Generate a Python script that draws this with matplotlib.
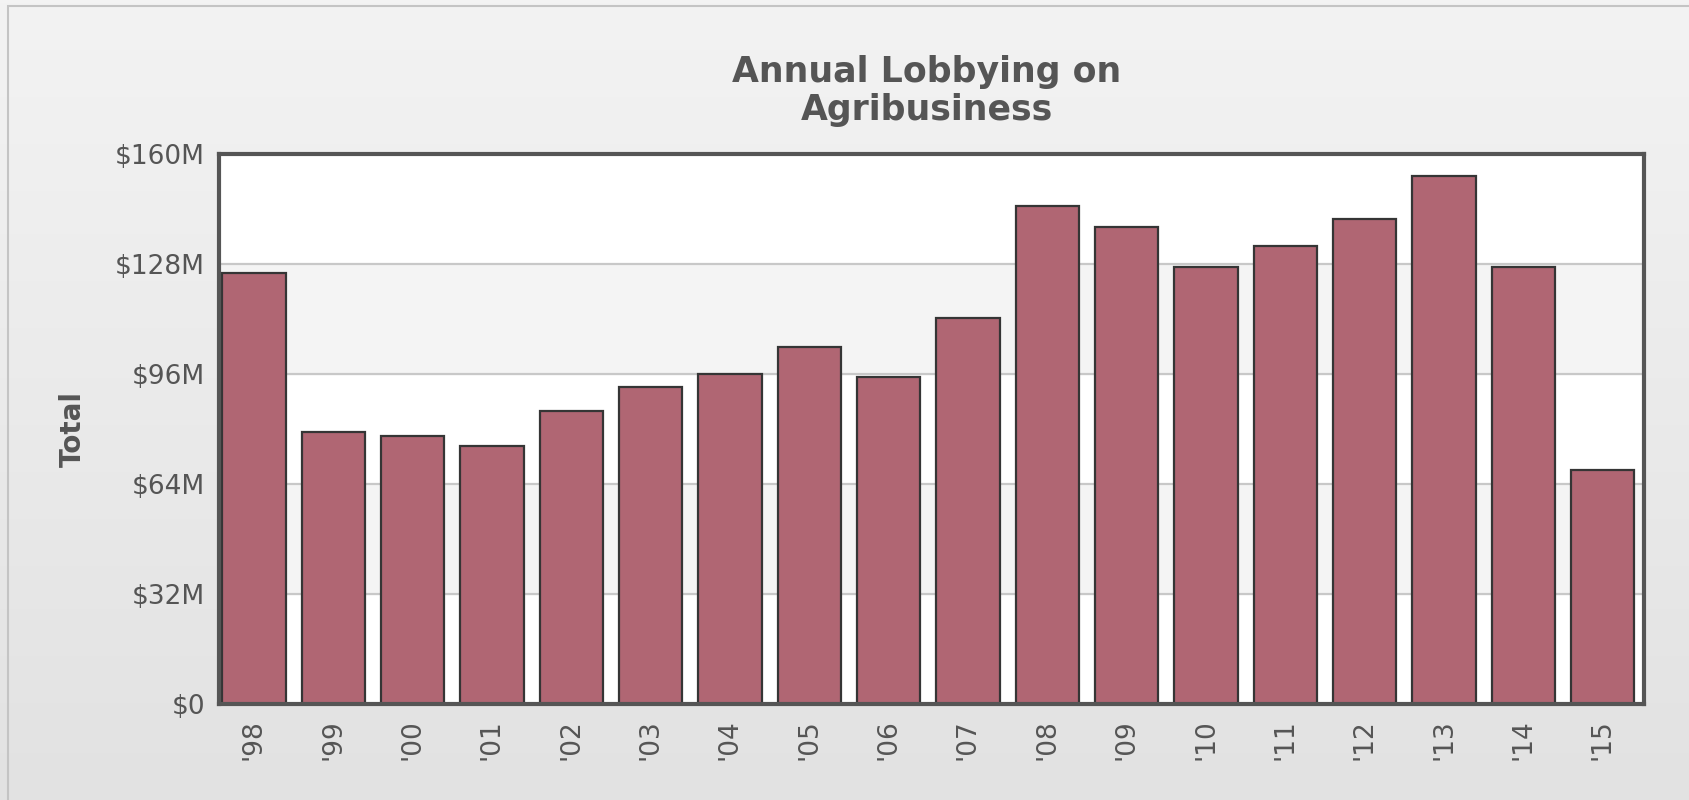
import numpy as np
import matplotlib
matplotlib.use('Agg')
import matplotlib.pyplot as plt
from matplotlib.patches import Rectangle

years = ["'98", "'99", "'00", "'01", "'02", "'03", "'04", "'05", "'06",
         "'07", "'08", "'09", "'10", "'11", "'12", "'13", "'14", "'15"]
totals = [125.5, 79.1, 78.1, 75.0, 85.3, 92.2, 96.0, 103.8, 95.1,
          112.3, 144.9, 138.7, 127.1, 133.3, 141.1, 153.6, 127.1, 68.1]  # $M
yticks = [0, 32, 64, 96, 128, 160]
ytick_labels = ['$0', '$32M', '$64M', '$96M', '$128M', '$160M']

W, H = 1690, 800
fig = plt.figure(figsize=(W / 100, H / 100), dpi=100)

# background gradient
bg = fig.add_axes([0, 0, 1, 1], zorder=-10)
grad = np.linspace(0, 1, 256).reshape(-1, 1)
bg.imshow(grad, aspect='auto', cmap=matplotlib.colors.LinearSegmentedColormap.from_list(
    'g', ['#f3f3f3', '#e2e2e2']), extent=[0, 1, 0, 1], origin='upper')
bg.add_patch(Rectangle((8 / W, -0.1), 1.2, 1 - 6 / H + 0.1, fill=False,
                       edgecolor='#c4c4c4', linewidth=1.5))
bg.set_xlim(0, 1)
bg.set_ylim(0, 1)
bg.axis('off')

left, right, top, bottom = 219, 1644, 154, 704
ax = fig.add_axes([left / W, 1 - bottom / H, (right - left) / W, (bottom - top) / H])
ax.set_facecolor('white')

x = np.arange(len(years))
for lo in (32, 96):
    ax.axhspan(lo, lo + 32, color='#f4f4f4', zorder=0)
for t in yticks[1:-1]:
    ax.axhline(t, color='#c8c8c8', linewidth=1.6, zorder=1)

ax.bar(x, totals, width=0.8, color='#b06673', edgecolor='#353535',
       linewidth=1.6, zorder=2)

ax.set_xlim(-0.44, len(years) - 0.48)
ax.set_ylim(0, 160)
ax.set_yticks(yticks)
ax.set_yticklabels(ytick_labels)
ax.set_xticks(x)
ax.set_xticklabels(years, rotation=90)
ax.tick_params(axis='y', length=0, pad=10, labelsize=19, labelcolor='#555555')
ax.tick_params(axis='x', length=0, pad=11, labelsize=19, labelcolor='#555555')
for s in ax.spines.values():
    s.set_color('#555555')
    s.set_linewidth(3)

fig.text(73 / W, 1 - 429 / H, 'Total', rotation=90, fontsize=20, fontweight='bold',
         color='#555555', ha='center', va='center')
fig.text(927 / W, 1 - 91 / H, 'Annual Lobbying on\nAgribusiness', fontsize=25,
         fontweight='bold', color='#555555', ha='center', va='center',
         linespacing=1.15)

fig.savefig('out.png', dpi=100)
